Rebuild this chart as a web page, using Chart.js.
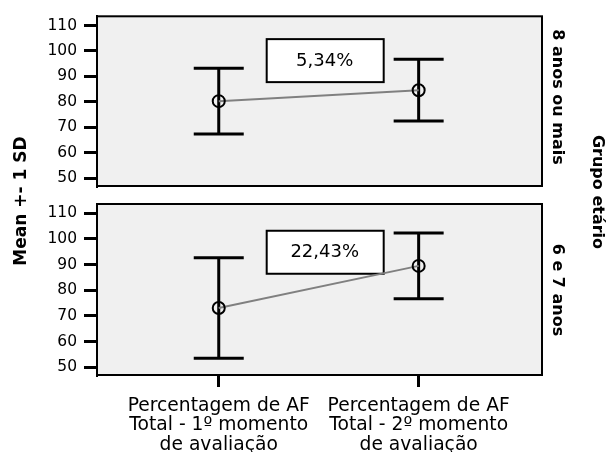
<!DOCTYPE html>
<html>
<head>
<meta charset="utf-8">
<script src="https://cdn.jsdelivr.net/npm/chart.js@4/dist/chart.umd.min.js"></script>
<style>
  body{margin:0;background:#fff;overflow:hidden;}
  #wrap{position:relative;width:607px;height:452px;}
  canvas{position:absolute;left:0;top:0;}
</style>
</head>
<body>
<div id="wrap">
  <canvas id="topPanel" width="607" height="452"></canvas>
  <canvas id="bottomPanel" width="607" height="452"></canvas>
</div>
<script>
// --- Data ---
const moments = [
  ['Percentagem de AF', 'Total - 1º momento', 'de avaliação'],
  ['Percentagem de AF', 'Total - 2º momento', 'de avaliação']
];
const groups = ['8 anos ou mais', '6 e 7 anos'];
const means8 = [80.3, 84.6];
const sd8 = [12.9, 12.1];
const means67 = [73.1, 89.5];
const sd67 = [19.6, 12.8];
const changes = ['5,34%', '22,43%'];
const yTicks = [50, 60, 70, 80, 90, 100, 110];

const FONT = "'DejaVu Sans', sans-serif";

// --- Panel drawing (background, error bars, frame, label box) ---
const panelPlugin = {
  id: 'panel',
  beforeDraw(chart){
    const {ctx, chartArea: a} = chart;
    ctx.save();
    ctx.fillStyle = '#f0f0f0';
    ctx.fillRect(a.left, a.top, a.width, a.height);
    ctx.restore();
  },
  beforeDatasetsDraw(chart){
    const {ctx, scales} = chart;
    const opt = chart.options.plugins.panel;
    ctx.save();
    ctx.strokeStyle = '#000';
    ctx.lineWidth = 3;
    opt.means.forEach((m, i) => {
      const x = scales.x.getPixelForValue(i);
      const yHi = scales.y.getPixelForValue(m + opt.sds[i]);
      const yLo = scales.y.getPixelForValue(m - opt.sds[i]);
      ctx.beginPath();
      ctx.moveTo(x, yHi); ctx.lineTo(x, yLo);
      ctx.moveTo(x - 25, yHi); ctx.lineTo(x + 25, yHi);
      ctx.moveTo(x - 25, yLo); ctx.lineTo(x + 25, yLo);
      ctx.stroke();
    });
    // change label box
    const bx = scales.x.getPixelForValue(0.53);
    const by = scales.y.getPixelForValue(opt.boxY);
    ctx.fillStyle = '#fff';
    ctx.lineWidth = 2;
    ctx.fillRect(bx - 58, by - 21, 117, 43);
    ctx.strokeRect(bx - 58, by - 21, 117, 43);
    ctx.fillStyle = '#000';
    ctx.font = '18px ' + FONT;
    ctx.textAlign = 'center';
    ctx.textBaseline = 'middle';
    ctx.fillText(opt.label, bx, by + 1);
    ctx.restore();
  },
  afterDraw(chart){
    const {ctx, chartArea: a} = chart;
    ctx.save();
    ctx.strokeStyle = '#000';
    ctx.lineWidth = 2;
    ctx.strokeRect(a.left, a.top, a.width, a.height);
    ctx.restore();
  }
};

// --- Outer titles ---
function rotText(ctx, text, x, y, ang, font){
  ctx.save();
  ctx.translate(x, y);
  ctx.rotate(ang);
  ctx.font = font;
  ctx.fillStyle = '#000';
  ctx.textAlign = 'center';
  ctx.textBaseline = 'middle';
  ctx.fillText(text, 0, 0);
  ctx.restore();
}
const titlesPlugin = {
  id: 'titles',
  afterDraw(chart){
    const ctx = chart.ctx;
    rotText(ctx, 'Mean +- 1 SD', 22, 201, -Math.PI/2, 'bold 17px ' + FONT);
    rotText(ctx, groups[0], 557, 97, Math.PI/2, 'bold 16px ' + FONT);
    rotText(ctx, groups[1], 557, 290, Math.PI/2, 'bold 16px ' + FONT);
    rotText(ctx, 'Grupo etário', 597, 192, Math.PI/2, 'bold 16px ' + FONT);
  }
};

function makePanel(id, means, sds, label, boxY, top, showX){
  const xAxisHeight = showX ? 77 : 266;
  return new Chart(document.getElementById(id), {
    type: 'scatter',
    data: {
      datasets: [{
        data: means.map((m, i) => ({x: i, y: m})),
        showLine: true,
        borderColor: '#808080',
        borderWidth: 2,
        pointRadius: 6,
        pointHoverRadius: 6,
        pointBorderWidth: 2,
        pointBorderColor: '#000',
        pointBackgroundColor: 'rgba(0,0,0,0)'
      }]
    },
    options: {
      responsive: false,
      animation: false,
      layout: {padding: {top: top, right: 65, left: 0, bottom: 0}},
      plugins: {
        legend: {display: false},
        tooltip: {enabled: false},
        panel: {means: means, sds: sds, label: label, boxY: boxY}
      },
      scales: {
        x: {
          type: 'linear',
          min: -0.609, max: 1.617,
          afterBuildTicks: s => { s.ticks = [{value: 0}, {value: 1}]; },
          afterFit: s => { s.height = xAxisHeight; },
          border: {display: false},
          grid: {display: showX, drawOnChartArea: false, drawTicks: true, tickLength: 12, color: '#000', lineWidth: 3},
          ticks: {
            display: showX,
            padding: 10,
            maxRotation: 0,
            color: '#000',
            font: {family: FONT, size: 18.7, lineHeight: 1.02},
            callback: v => moments[v]
          }
        },
        y: {
          min: 47, max: 113.6,
          afterBuildTicks: s => { s.ticks = yTicks.map(v => ({value: v})); },
          afterFit: s => { s.width = 97; },
          border: {display: true, color: '#000', width: 2},
          grid: {drawOnChartArea: false, drawTicks: true, tickLength: 13, color: '#000', lineWidth: 3},
          ticks: {
            padding: 7,
            color: '#000',
            font: {family: FONT, size: 15.5}
          }
        }
      }
    },
    plugins: showX ? [panelPlugin, titlesPlugin] : [panelPlugin]
  });
}

makePanel('topPanel', means8, sd8, changes[0], 96.4, 14, false);
makePanel('bottomPanel', means67, sd67, changes[1], 95.0, 204, true);
</script>
</body>
</html>
